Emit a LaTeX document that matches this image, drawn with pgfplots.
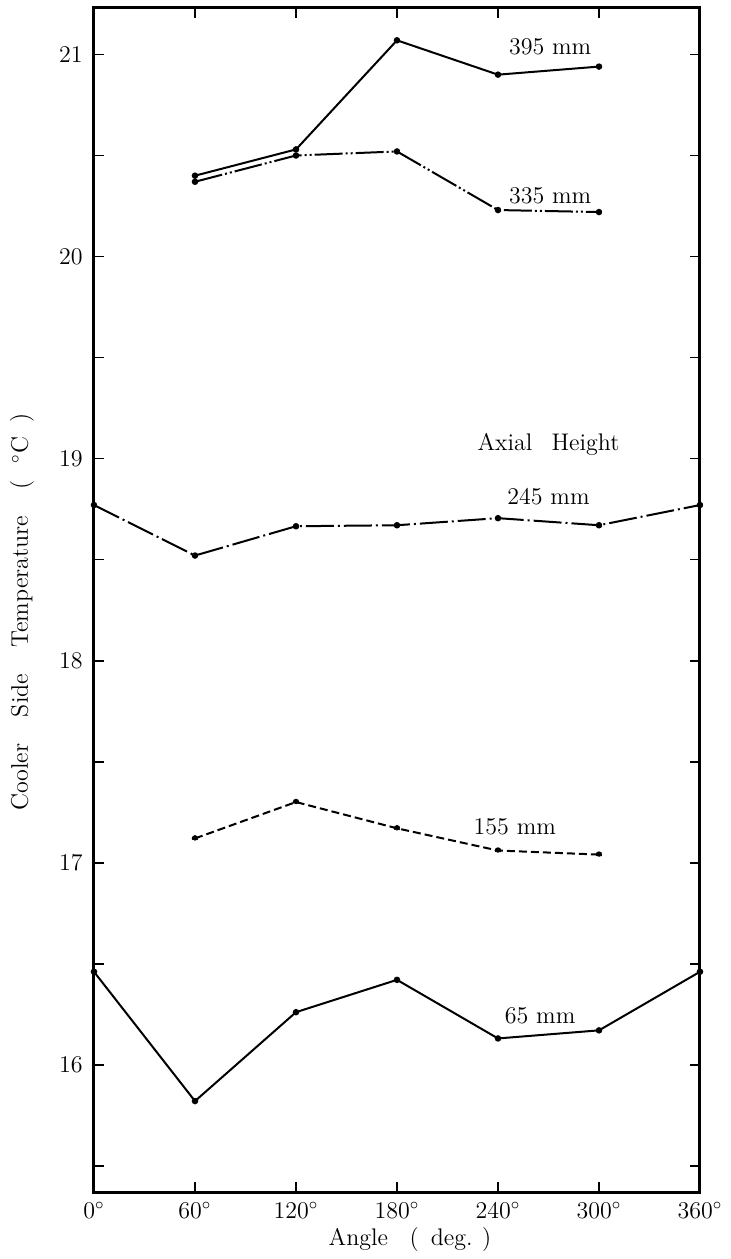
\documentclass[border=0pt]{standalone}
\usepackage{pgfplots}
\pgfplotsset{compat=1.18}

\begin{document}
\begin{tikzpicture}
\fontsize{12}{14}\selectfont
\begin{axis}[
    at={(0,0)}, anchor=south west,
    scale only axis,
    width=303pt, height=592pt,
    xmin=0, xmax=360,
    ymin=15.37, ymax=21.23,
    xtick={0,60,120,180,240,300,360},
    xticklabels={$0^\circ$,$60^\circ$,$120^\circ$,$180^\circ$,$240^\circ$,$300^\circ$,$360^\circ$},
    ytick={16,17,18,19,20,21},
    minor ytick={15.5,16.5,17.5,18.5,19.5,20.5},
    tick align=inside,
    major tick length=5pt,
    minor tick length=5pt,
    axis line style={black, line width=1.5pt},
    every tick/.style={black, line width=0.9pt},
    tick label style={font=\fontsize{12}{14}\selectfont},
    yticklabel style={xshift=-1.5pt},
    xticklabel style={yshift=-1pt},
    clip=false,
  ]

  % 395 mm
  \addplot[black, line width=1pt, mark=*, mark size=1.1pt] coordinates {
    (60,20.40) (120,20.53) (180,21.07) (240,20.90) (300,20.94)
  };
  % 335 mm
  \addplot[black, line width=1pt, mark=*, mark size=1.1pt,
    dash pattern=on 14pt off 1.5pt on 1pt off 1.5pt on 1pt off 1.5pt] coordinates {
    (60,20.37) (120,20.50) (180,20.52) (240,20.23) (300,20.22)
  };
  % 245 mm
  \addplot[black, line width=1pt, mark=*, mark size=1.1pt,
    dash pattern=on 14pt off 2pt on 1pt off 2pt] coordinates {
    (0,18.77) (60,18.52) (120,18.665) (180,18.67) (240,18.705) (300,18.67) (360,18.77)
  };
  % 155 mm
  \addplot[black, line width=1pt, mark=*, mark size=1.1pt,
    dash pattern=on 4pt off 2pt] coordinates {
    (60,17.12) (120,17.30) (180,17.17) (240,17.06) (300,17.04)
  };
  % 65 mm
  \addplot[black, line width=1pt, mark=*, mark size=1.1pt] coordinates {
    (0,16.46) (60,15.82) (120,16.26) (180,16.42) (240,16.13) (300,16.17) (360,16.46)
  };

  \node at (axis cs:271,21.04) {395 mm};
  \node at (axis cs:271,20.30) {335 mm};
  \node at (axis cs:270,19.07) {Axial\hspace{0.8em}Height};
  \node at (axis cs:270,18.81) {245 mm};
  \node at (axis cs:250,17.18) {155 mm};
  \node at (axis cs:265,16.24) {65 mm};

\end{axis}
\node[rotate=90] at (-36pt,290pt)
  {Cooler\hspace{1.1em}Side\hspace{1.1em}Temperature\hspace{1.1em}(\hspace{0.7em}$^\circ$C\hspace{0.6em})};
\node at (158pt,-24pt) {Angle\hspace{0.9em}(\hspace{0.5em}deg.\hspace{0.4em})};
\pgfresetboundingbox
\path[use as bounding box] (-47pt,-33.5pt) rectangle (318.5pt,596pt);
\end{tikzpicture}
\end{document}
